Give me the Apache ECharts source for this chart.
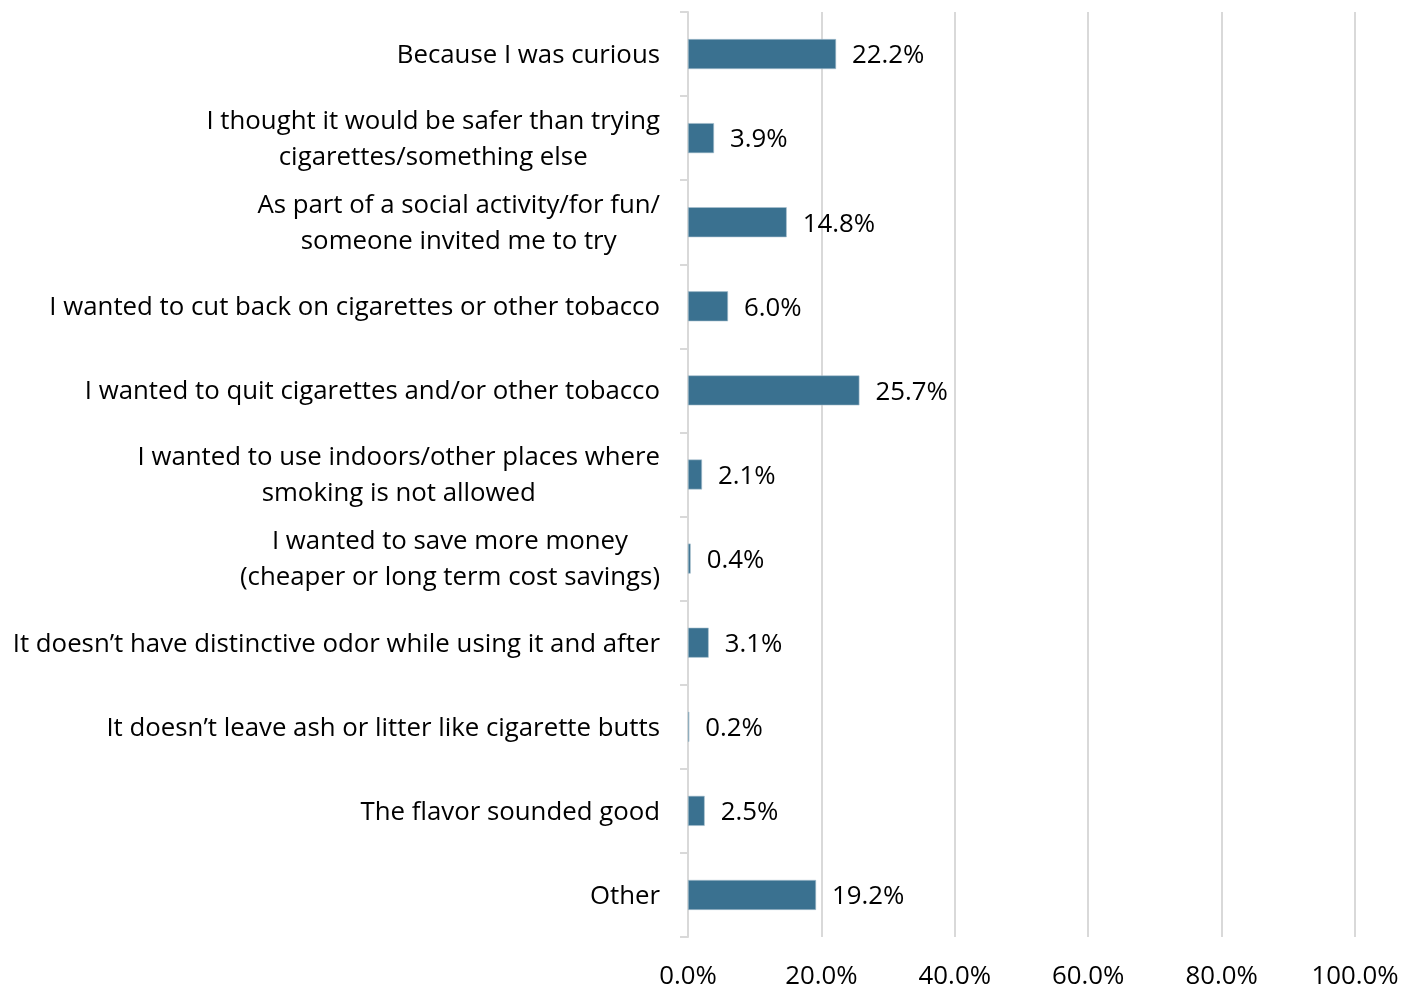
<!DOCTYPE html>
<html>
<head>
<meta charset="utf-8">
<script src="https://cdn.jsdelivr.net/npm/echarts@6/dist/echarts.min.js"></script>
<style>html,body{margin:0;padding:0;background:#fff;}#c{width:1403px;height:990px;}</style>
</head>
<body>
<div id="c"></div>
<script>
const categories = [
  "Because I was curious",
  "I thought it would be safer than trying\ncigarettes/something else",
  "As part of a social activity/for fun/\nsomeone invited me to try",
  "I wanted to cut back on cigarettes or other tobacco",
  "I wanted to quit cigarettes and/or other tobacco",
  "I wanted to use indoors/other places where\nsmoking is not allowed",
  "I wanted to save more money\n(cheaper or long term cost savings)",
  "It doesn\u2019t have distinctive odor while using it and after",
  "It doesn\u2019t leave ash or litter like cigarette butts",
  "The flavor sounded good",
  "Other"
];
const values = [22.2, 3.9, 14.8, 6.0, 25.7, 2.1, 0.4, 3.1, 0.2, 2.5, 19.2];
const xTicks = [0, 20, 40, 60, 80, 100];

const FONT = 'Open Sans';
const FS = 25.8;
const chart = echarts.init(document.getElementById('c'));
chart.setOption({
  animation: false,
  grid: {left: 688, right: 48, top: 12, bottom: 52, containLabel: false},
  xAxis: {
    type: 'value', min: xTicks[0], max: xTicks[xTicks.length - 1], interval: 20,
    axisLine: {show: false}, axisTick: {show: false},
    splitLine: {show: true, lineStyle: {color: '#d9d9d9', width: 2}},
    axisLabel: {margin: 27, color: '#000', fontFamily: FONT, fontSize: FS,
      formatter: v => v.toFixed(1) + '%'}
  },
  yAxis: {
    type: 'category', data: categories, inverse: true,
    axisLine: {show: true, lineStyle: {color: '#d9d9d9', width: 2}},
    axisTick: {show: true, length: 8, alignWithLabel: false, lineStyle: {color: '#d9d9d9', width: 2}},
    axisLabel: {
      margin: 28, align: 'right', color: '#000', fontFamily: FONT, fontSize: FS,
      padding: [3, 0, 0, 0],
      formatter: v => v.split('\n').map(l => '{c|' + l + '}').join('\n'),
      rich: {c: {align: 'center', color: '#000', fontFamily: FONT, fontSize: FS, lineHeight: 36}}
    }
  },
  series: [{
    type: 'bar', data: values, barWidth: 30,
    itemStyle: {color: '#3a7190', borderColor: '#a9c1cf', borderWidth: 0.6},
    label: {show: true, position: 'right', distance: 16, offset: [0, 2], color: '#000',
      fontFamily: FONT, fontSize: FS, formatter: p => p.value.toFixed(1) + '%'}
  }]
});
</script>
</body>
</html>
